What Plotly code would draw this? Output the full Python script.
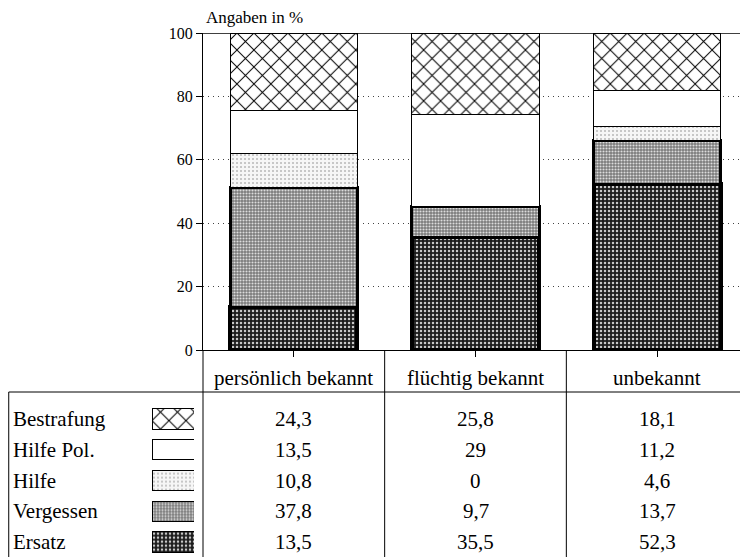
import plotly.graph_objects as go

categories = ["persönlich bekannt", "flüchtig bekannt", "unbekannt"]
series_names = ["Ersatz", "Vergessen", "Hilfe", "Hilfe Pol.", "Bestrafung"]
ersatz = [13.5, 35.5, 52.3]
vergessen = [37.8, 9.7, 13.7]
hilfe = [10.8, 0, 4.6]
hilfe_pol = [13.5, 29, 11.2]
bestrafung = [24.3, 25.8, 18.1]
y_ticks = [0, 20, 40, 60, 80, 100]
table_order = ["Bestrafung", "Hilfe Pol.", "Hilfe", "Vergessen", "Ersatz"]

values = {
    "Ersatz": ersatz,
    "Vergessen": vergessen,
    "Hilfe": hilfe,
    "Hilfe Pol.": hilfe_pol,
    "Bestrafung": bestrafung,
}

styles = {
    "Ersatz": dict(shape=".", fg="#c8c8c8", bg="#1c1c1c", size=4, sol=0.3, lw=4),
    "Vergessen": dict(shape=".", fg="#dcdcdc", bg="#7a7a7a", size=3, sol=0.4, lw=3),
    "Hilfe": dict(shape=".", fg="#b8b8b8", bg="#f6f6f6", size=4, sol=0.2, lw=1),
    "Hilfe Pol.": dict(shape="", fg="#ffffff", bg="#ffffff", size=8, sol=0.3, lw=1),
    "Bestrafung": dict(shape="x", fg="#000000", bg="#ffffff", size=12, sol=0.16, lw=1),
}

# page body margin offsets the figure by 8px; size figure to fill the rest of the window
OFF = 8
W, H = 748 - OFF, 557 - OFF
FONT = "Liberation Serif"

def px_y(p):
    return min(1.0, max(0.0, (H - (p - OFF)) / H))

def px_x(p):
    return min(1.0, max(0.0, (p - OFF) / W))

fig = go.Figure()

for name in series_names:
    s = styles[name]
    fig.add_trace(go.Bar(
        x=categories, y=values[name], name=name, width=0.70,
        marker=dict(
            color=s["bg"],
            line=dict(color="black", width=s["lw"]),
            pattern=dict(shape=s["shape"], fgcolor=s["fg"], bgcolor=s["bg"],
                         size=s["size"], solidity=s["sol"], fillmode="replace"),
        ),
        hoverinfo="skip", showlegend=False, xaxis="x", yaxis="y",
    ))

# legend swatches in the table
for i, name in enumerate(table_order):
    s = styles[name]
    fig.add_trace(go.Bar(
        x=[1], y=[i], orientation="h", width=0.66,
        marker=dict(
            color=s["bg"],
            line=dict(color="black", width=1),
            pattern=dict(shape=s["shape"], fgcolor=s["fg"], bgcolor=s["bg"],
                         size=s["size"], solidity=s["sol"], fillmode="replace"),
        ),
        hoverinfo="skip", showlegend=False, xaxis="x2", yaxis="y2",
    ))

y_bottom_px, y_top_px = 350, 33
row0_px, row_step = 419, 30.75
header_px = 378
hline_px = 392

row_top = -0.5
row_bottom = (557 - row0_px) / row_step

fig.update_layout(
    width=W, height=H,
    margin=dict(l=0, r=0, t=0, b=0, pad=0, autoexpand=False),
    paper_bgcolor="white", plot_bgcolor="white",
    barmode="stack", bargap=0.3,
    font=dict(family=FONT, color="black", size=16),
    xaxis=dict(
        domain=[px_x(203), 1], range=[-0.5, 2.5], automargin=False,
        showticklabels=False, ticks="outside", ticklen=6, tickcolor="black",
        showline=True, linecolor="black", linewidth=1, showgrid=False,
        anchor="y", fixedrange=True,
    ),
    yaxis=dict(
        domain=[px_y(y_bottom_px), px_y(y_top_px)], range=[0, 100], automargin=False,
        tickvals=y_ticks, ticks="outside", ticklen=6, tickcolor="black",
        tickfont=dict(family=FONT, size=16, color="black"),
        showline=True, linecolor="black", linewidth=1,
        showgrid=True, gridcolor="#444444", griddash="1px,4px", gridwidth=1,
        zeroline=False, anchor="x", fixedrange=True,
    ),
    xaxis2=dict(domain=[px_x(152), px_x(194)], range=[0, 1], visible=False,
                automargin=False, anchor="y2", fixedrange=True),
    yaxis2=dict(domain=[0, px_y(row0_px + row_top * row_step)], automargin=False,
                range=[row_bottom, row_top], visible=False, anchor="x2", fixedrange=True),
)

shapes = []
shapes.append(dict(type="line", xref="paper", yref="y", x0=px_x(197), x1=1, y0=100, y1=100,
                   line=dict(color="black", width=1.5)))
shapes.append(dict(type="line", xref="paper", yref="paper", x0=px_x(203), x1=px_x(203),
                   y0=0, y1=px_y(y_bottom_px), line=dict(color="black", width=1)))
for xc in [0.5, 1.5]:
    shapes.append(dict(type="line", xref="x", yref="paper", x0=xc, x1=xc,
                       y0=0, y1=px_y(y_bottom_px), line=dict(color="black", width=1)))
shapes.append(dict(type="line", xref="paper", yref="paper", x0=0.001, x1=1,
                   y0=px_y(hline_px), y1=px_y(hline_px), line=dict(color="black", width=1)))
shapes.append(dict(type="line", xref="paper", yref="paper", x0=0.001, x1=0.001,
                   y0=0, y1=px_y(hline_px), line=dict(color="black", width=1)))
fig.update_layout(shapes=shapes)

TFS = 21
ann = []
ann.append(dict(text="Angaben in %", xref="paper", yref="paper", x=px_x(204), y=px_y(17),
                xanchor="left", yanchor="middle", showarrow=False,
                font=dict(family=FONT, size=17)))
for c in categories:
    ann.append(dict(text=c, xref="x", yref="paper", x=c, y=px_y(header_px),
                    xanchor="center", yanchor="middle", showarrow=False,
                    font=dict(family=FONT, size=TFS)))
for i, name in enumerate(table_order):
    yy = px_y(row0_px + i * row_step)
    ann.append(dict(text=name, xref="paper", yref="paper", x=px_x(11), y=yy,
                    xanchor="left", yanchor="middle", showarrow=False,
                    font=dict(family=FONT, size=TFS)))
    for c, v in zip(categories, values[name]):
        txt = ("%g" % v).replace(".", ",")
        ann.append(dict(text=txt, xref="x", yref="paper", x=c, y=yy,
                        xanchor="center", yanchor="middle", showarrow=False,
                        font=dict(family=FONT, size=TFS)))
fig.update_layout(annotations=ann)

fig.write_html("out.html")
